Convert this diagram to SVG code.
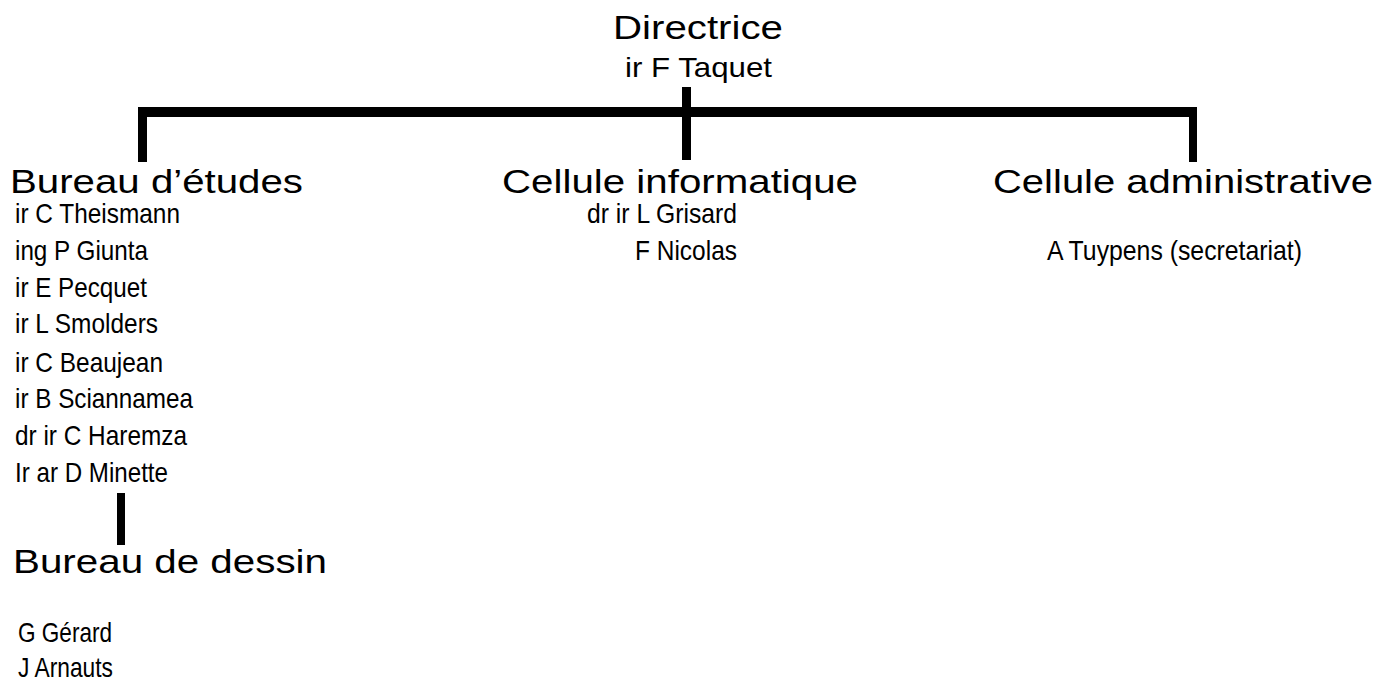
<svg xmlns="http://www.w3.org/2000/svg" width="1381" height="681" viewBox="0 0 1381 681">
<style>
text{font-family:"Liberation Sans",Arial,sans-serif;fill:#000}
.t{font-size:33px}
.s{font-size:28px}
.c{fill:#000}
</style>
<rect width="1381" height="681" fill="#fff"/>
<g id="connectors">
<rect class="c" x="138" y="107" width="1059" height="10"/>
<rect class="c" x="682" y="87" width="9" height="73"/>
<rect class="c" x="138" y="107" width="9" height="55"/>
<rect class="c" x="1189" y="107" width="8" height="55"/>
<rect class="c" x="117" y="493" width="8" height="52"/>
</g>
<g id="directrice">
<text class="t" x="613" y="39" textLength="170" lengthAdjust="spacingAndGlyphs">Directrice</text>
<text class="s" x="625" y="77" textLength="147" lengthAdjust="spacingAndGlyphs">ir F Taquet</text>
</g>
<g id="bureau-etudes">
<text class="t" x="10" y="193" textLength="293" lengthAdjust="spacingAndGlyphs">Bureau d’études</text>
<text class="s" x="15" y="223" textLength="165" lengthAdjust="spacingAndGlyphs">ir C Theismann</text>
<text class="s" x="15" y="260" textLength="133" lengthAdjust="spacingAndGlyphs">ing P Giunta</text>
<text class="s" x="15" y="297" textLength="132" lengthAdjust="spacingAndGlyphs">ir E Pecquet</text>
<text class="s" x="15" y="333" textLength="143" lengthAdjust="spacingAndGlyphs">ir L Smolders</text>
<text class="s" x="15" y="372" textLength="148" lengthAdjust="spacingAndGlyphs">ir C Beaujean</text>
<text class="s" x="15" y="408" textLength="178" lengthAdjust="spacingAndGlyphs">ir B Sciannamea</text>
<text class="s" x="15" y="445" textLength="172" lengthAdjust="spacingAndGlyphs">dr ir C Haremza</text>
<text class="s" x="15" y="482" textLength="153" lengthAdjust="spacingAndGlyphs">Ir ar D Minette</text>
</g>
<g id="bureau-dessin">
<text class="t" x="13" y="573" textLength="314" lengthAdjust="spacingAndGlyphs">Bureau de dessin</text>
<text class="s" x="18" y="642" textLength="94" lengthAdjust="spacingAndGlyphs">G Gérard</text>
<text class="s" x="18" y="677" textLength="95" lengthAdjust="spacingAndGlyphs">J Arnauts</text>
</g>
<g id="cellule-informatique">
<text class="t" x="502" y="193" textLength="356" lengthAdjust="spacingAndGlyphs">Cellule informatique</text>
<text class="s" x="587" y="223" textLength="150" lengthAdjust="spacingAndGlyphs">dr ir L Grisard</text>
<text class="s" x="635" y="260" textLength="102" lengthAdjust="spacingAndGlyphs">F Nicolas</text>
</g>
<g id="cellule-administrative">
<text class="t" x="993" y="193" textLength="380" lengthAdjust="spacingAndGlyphs">Cellule administrative</text>
<text class="s" x="1047" y="260" textLength="255" lengthAdjust="spacingAndGlyphs">A Tuypens (secretariat)</text>
</g>
</svg>
